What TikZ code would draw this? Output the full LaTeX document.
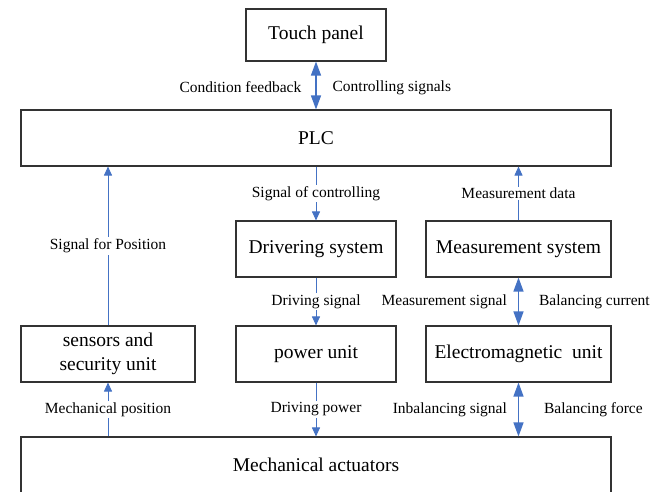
\documentclass[tikz,border=0pt]{standalone}
\usepackage{fontspec}
\setmainfont{Liberation Serif}
\usetikzlibrary{arrows.meta}
\definecolor{arrblue}{HTML}{4472C4}
\begin{document}
\begin{tikzpicture}[x=1pt,y=-1pt,
  box/.style={draw=black!80,line width=1.1pt,minimum height=56pt,inner sep=0pt,align=center,font=\fontsize{19.5}{23.5}\selectfont},
  lbl/.style={fill=white,text=black,inner sep=1.5pt,font=\fontsize{15.5}{18}\selectfont},
  side/.style={inner sep=0pt,text=black,font=\fontsize{15.5}{18}\selectfont},
  thinarrow/.style={draw=arrblue,line width=0.9pt,-{Triangle[length=9pt,width=8pt]},color=arrblue},
  dblarrow/.style={draw=arrblue,line width=1.3pt,{Triangle[length=14pt,width=10pt]}-{Triangle[length=14pt,width=10pt]},color=arrblue}]
\useasboundingbox (0,0) rectangle (654,491);
\fill[white] (0,0) rectangle (654,491);
\clip (0,0) rectangle (654,491);
\node[box,minimum width=140pt,minimum height=52pt] (touch) at (316,35) {Touch panel};
\node[box,minimum width=590pt] (plc) at (316,138) {PLC};
\node[box,minimum width=160pt] (drv) at (316,249) {Drivering system};
\node[box,minimum width=185pt] (meas) at (518.5,249) {Measurement system};
\node[box,minimum width=174pt] (sens) at (108,354) {sensors and\\security unit};
\node[box,minimum width=160pt] (pow) at (316,354) {power unit};
\node[box,minimum width=185pt] (em) at (518.5,354) {Electromagnetic\ \ unit};
\node[box,minimum width=590pt] (mech) at (316,465) {Mechanical actuators};
% connectors
\draw[dblarrow] (touch.south) -- (touch.south |- plc.north)
  node[pos=0.5,side,anchor=east,xshift=-14pt,yshift=-2pt] {Condition feedback}
  node[pos=0.5,side,anchor=west,xshift=16pt,yshift=-2pt] {Controlling signals};
\draw[thinarrow] (sens.north) -- node[lbl] {Signal for Position} (sens.north |- plc.south);
\draw[thinarrow] (drv.north |- plc.south) -- node[lbl] {Signal of controlling} (drv.north);
\draw[thinarrow] (meas.north) -- node[lbl] {Measurement data} (meas.north |- plc.south);
\draw[thinarrow] (drv.south) -- node[lbl] {Driving signal} (pow.north);
\draw[dblarrow] (meas.south) -- (em.north)
  node[pos=0.5,side,anchor=east,xshift=-11pt] {Measurement signal}
  node[pos=0.5,side,anchor=west,xshift=20pt] {Balancing current};
\draw[thinarrow] (sens.south |- mech.north) -- node[lbl] {Mechanical position} (sens.south);
\draw[thinarrow] (pow.south) -- node[lbl] {Driving power} (pow.south |- mech.north);
\draw[dblarrow] (em.south) -- (em.south |- mech.north)
  node[pos=0.5,side,anchor=east,xshift=-11pt] {Inbalancing signal}
  node[pos=0.5,side,anchor=west,xshift=25pt] {Balancing force};
\end{tikzpicture}
\end{document}
